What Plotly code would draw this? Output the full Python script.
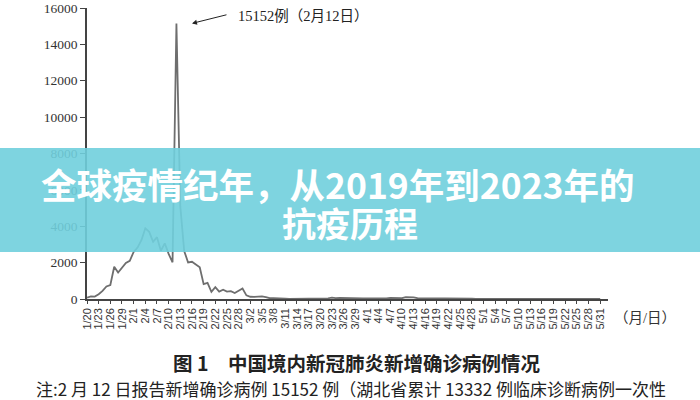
import plotly.graph_objects as go

# Daily new confirmed cases in China, 2020-01-20 .. 2020-05-31
new_cases = [
    77, 149, 131, 259, 444, 688, 769, 1771, 1459, 1737, 1982, 2102,          # 1/20-1/31
    2590, 2829, 3235, 3887, 3694, 3143, 3399, 2656, 3062, 2478, 2015, 15152,  # 2/1-2/12
    5090, 2641, 2009, 2048, 1886, 1749, 820, 889, 397, 648, 409, 508, 406,    # 2/13-2/25
    433, 327, 427, 573,                                                       # 2/26-2/29
    202, 125, 119, 139, 143, 99, 44, 40, 19, 24, 15, 8, 11, 20, 16, 21, 13,   # 3/1-3/17
    34, 39, 41, 46, 39, 78, 47, 67, 55, 54, 45, 31, 48, 36,                   # 3/18-3/31
    35, 31, 19, 30, 39, 32, 62, 63, 42, 46, 99, 108, 89, 46, 46, 26, 27,      # 4/1-4/17
    16, 12, 11, 30, 30, 10, 6, 12, 11, 6, 22, 4, 12,                          # 4/18-4/30
    2, 1, 3, 3, 1, 2, 4, 1, 14, 17, 1, 7, 3, 3, 4, 8, 5, 7, 6, 2, 2, 4,       # 5/1-5/22
    3, 3, 11, 7, 1, 2, 2, 4, 2,                                               # 5/23-5/31
]
day_index = list(range(len(new_cases)))

tick_labels = [
    "1/20", "1/23", "1/26", "1/29", "2/1", "2/4", "2/7", "2/10", "2/13", "2/16",
    "2/19", "2/22", "2/25", "2/28", "3/2", "3/5", "3/8", "3/11", "3/14", "3/17",
    "3/20", "3/23", "3/26", "3/29", "4/1", "4/4", "4/7", "4/10", "4/13", "4/16",
    "4/19", "4/22", "4/25", "4/28", "5/1", "5/4", "5/7", "5/10", "5/13", "5/16",
    "5/19", "5/22", "5/25", "5/28", "5/31",
]
tick_positions = day_index[::3]

y_ticks = [0, 2000, 4000, 6000, 8000, 10000, 12000, 14000, 16000]
y_tick_labels = ["0", "2000", "4000", "6000", "8000", "10000", "12000", "14000", "16000"]

peak_label = "15152例（2月12日）"
peak_day = 23
peak_value = 15152

title_line1 = "全球疫情纪年，从2019年到2023年的"
title_line2 = "抗疫历程"
caption_text = "<b>图 1</b>　<b>中国境内新冠肺炎新增确诊病例情况</b>"
note_text = "注:2 月 12 日报告新增确诊病例 15152 例（湖北省累计 13332 例临床诊断病例一次性"
unit_text = "（月/日）"

W, H = 700, 400
L, R, T, B = 87, 92, 8, 101
PW, PH = W - L - R, H - T - B


def px(xp):
    return (xp - L) / PW


def py(yp):
    return (H - B - yp) / PH


fig = go.Figure()
fig.add_trace(go.Scatter(
    x=day_index, y=new_cases, mode="lines",
    line=dict(color="#6e6e6e", width=1.8),
    hoverinfo="skip", showlegend=False,
))

fig.update_layout(
    width=W, height=H,
    margin=dict(l=L, r=R, t=T, b=B, autoexpand=False),
    paper_bgcolor="white", plot_bgcolor="white",
    showlegend=False,
    xaxis=dict(
        range=[0, 134], tickmode="array", tickvals=tick_positions, ticktext=tick_labels,
        tickangle=-90, ticks="outside", ticklen=3, tickcolor="#444", tickwidth=1,
        showline=True, linecolor="#444", linewidth=1.5, showgrid=False, zeroline=False,
        automargin=False,
        tickfont=dict(family="Liberation Sans", size=11, color="#333"),
    ),
    yaxis=dict(
        range=[0, 16000], tickmode="array", tickvals=y_ticks, ticktext=y_tick_labels,
        ticks="outside", ticklen=5, tickcolor="#444", tickwidth=1,
        showline=True, linecolor="#444", linewidth=1.5, showgrid=False, zeroline=False,
        automargin=False,
        tickfont=dict(family="Liberation Serif", size=13.5, color="#333"),
    ),
)

# peak arrow + label
fig.add_annotation(
    x=peak_day + 4.0, y=peak_value, xref="x", yref="y", text="",
    showarrow=True, arrowhead=2, arrowsize=1, arrowwidth=1, arrowcolor="#222",
    ax=36, ay=-9,
)
fig.add_annotation(
    x=px(236), y=py(16), xref="paper", yref="paper", xanchor="left", yanchor="middle",
    text=peak_label, showarrow=False,
    font=dict(family="Liberation Serif, Noto Sans CJK SC", size=14.5, color="#222"),
)
fig.add_annotation(
    x=px(612), y=py(318), xref="paper", yref="paper", xanchor="left", yanchor="middle",
    text=unit_text, showarrow=False,
    font=dict(family="Liberation Serif, Noto Sans CJK SC", size=14.5, color="#333"),
)
fig.add_annotation(
    x=px(356), y=py(362), xref="paper", yref="paper", xanchor="center", yanchor="middle",
    text=caption_text, showarrow=False,
    font=dict(family="Noto Sans CJK SC", size=19.5, color="#222"),
)
fig.add_annotation(
    x=px(351), y=py(388), xref="paper", yref="paper", xanchor="center", yanchor="middle",
    text=note_text, showarrow=False,
    font=dict(family="Noto Sans CJK SC", size=17, color="#222"),
)

# cyan banner overlay
fig.add_shape(
    type="rect", xref="paper", yref="paper",
    x0=px(0), x1=px(W), y0=py(252), y1=py(148),
    fillcolor="rgba(112, 207, 221, 0.9)", line=dict(width=0), layer="above",
)
fig.add_annotation(
    x=px(338), y=py(183), xref="paper", yref="paper", xanchor="center", yanchor="middle",
    text="<b>" + title_line1 + "</b>", showarrow=False,
    font=dict(family="Noto Sans CJK SC", size=35.5, color="white"),
)
fig.add_annotation(
    x=px(350), y=py(222), xref="paper", yref="paper", xanchor="center", yanchor="middle",
    text="<b>" + title_line2 + "</b>", showarrow=False,
    font=dict(family="Noto Sans CJK SC", size=34, color="white"),
)

fig.write_html(
    "out.html",
    config={"displayModeBar": False},
    post_script="document.body.style.margin='0';document.body.style.overflow='hidden';",
)
